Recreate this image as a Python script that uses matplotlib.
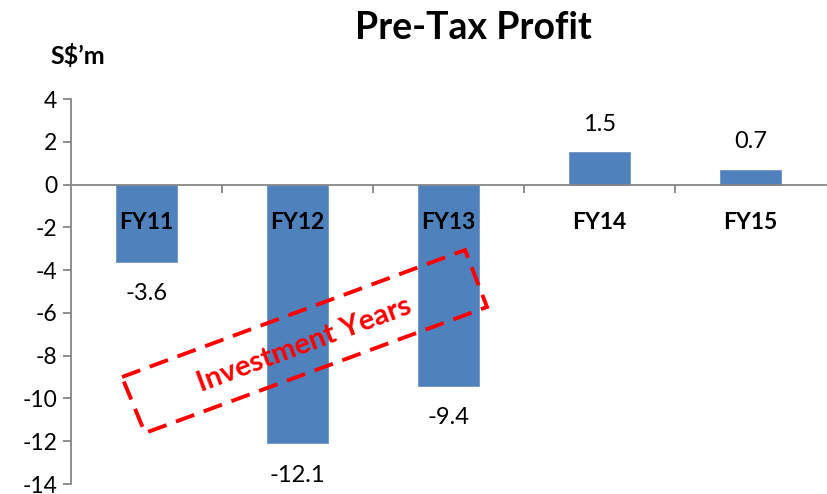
import matplotlib
matplotlib.use("Agg")
import matplotlib.pyplot as plt
from matplotlib.patches import Polygon
from matplotlib.ticker import FixedLocator

categories = ["FY11", "FY12", "FY13", "FY14", "FY15"]
values = [-3.6, -12.1, -9.4, 1.5, 0.7]
value_labels = ["-3.6", "-12.1", "-9.4", "1.5", "0.7"]
yticks = [4, 2, 0, -2, -4, -6, -8, -10, -12, -14]

W, H = 827, 494
plt.rcParams['font.family'] = ['Lato', 'DejaVu Sans']
fig = plt.figure(figsize=(W / 100, H / 100), dpi=100)

def px(x, y):
    return (x / W, 1 - y / H)

ax_left, ax_right, ax_top, ax_bottom = 71, 826, 99, 484
ax = fig.add_axes([ax_left / W, 1 - ax_bottom / H, (ax_right - ax_left) / W, (ax_bottom - ax_top) / H])
ax.set_axisbelow(False)

xs = list(range(len(categories)))
ax.bar(xs, values, width=0.4, color="#4F81BD", edgecolor="#6C93C6", linewidth=0.6, zorder=1)
ax.set_xlim(-0.5, len(categories) - 0.5)
ax.set_ylim(-14, 4)

gray = "#868686"
for s in ["top", "right"]:
    ax.spines[s].set_visible(False)
ax.spines["left"].set_color(gray)
ax.spines["left"].set_linewidth(1.3)
ax.spines["bottom"].set_position(("data", 0))
ax.spines["bottom"].set_color(gray)
ax.spines["bottom"].set_linewidth(1.3)

ax.set_yticks(yticks)
ax.set_yticklabels([str(t) for t in yticks], fontsize=16.5)
ax.tick_params(axis="y", direction="out", length=6, width=1.3, color=gray, pad=4)

ax.xaxis.set_major_locator(FixedLocator([i + 0.5 for i in xs[:-1]]))
ax.xaxis.set_minor_locator(FixedLocator(xs))
ax.set_xticklabels([], minor=False)
ax.set_xticklabels(categories, minor=True, fontsize=16.5, fontweight="bold")
ax.tick_params(axis="x", which="major", direction="out", length=6, width=1.3, color=gray)
ax.tick_params(axis="x", which="minor", length=0, pad=20)

for x, v, lab in zip(xs, values, value_labels):
    off = 20 if v > 0 else -23
    ax.annotate(lab, (x, v), xytext=(0, off), textcoords="offset points",
                ha="center", va="center", fontsize=17)

fig.text(*px(473, 28), "Pre-Tax Profit", ha="center", va="center", fontsize=27, fontweight="bold")
fig.text(*px(78, 56), "S$\u2019m", ha="center", va="center", fontsize=18, fontweight="bold")

corners = [(122, 377), (465, 250), (487, 307), (145, 433)]
poly = Polygon([px(*c) for c in corners], closed=True, fill=False, edgecolor="#FF0000",
               linewidth=2.8, linestyle=(0, (5, 2.6)), transform=fig.transFigure, zorder=5)
fig.add_artist(poly)
fig.text(*px(304, 345), "Investment Years", ha="center", va="center", rotation=20.5,
         rotation_mode="anchor", color="#FF0000", fontsize=21, fontweight="bold", zorder=6)

fig.savefig("out.png", dpi=100)
